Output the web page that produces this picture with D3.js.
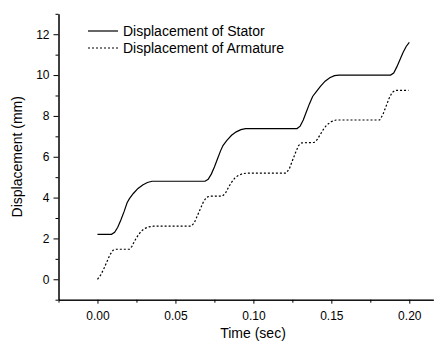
<!DOCTYPE html>
<html lang="en">
<head>
<meta charset="UTF-8">
<title>Displacement vs Time</title>
<script src="https://d3js.org/d3.v7.min.js"></script>
<style>
  body { margin: 0; background: #fff; }
  svg { display: block; font-family: Arial, "Liberation Sans", sans-serif; }
  .axis path, .axis line { stroke: #000; }
  .axis text { font-size: 12px; fill: #000; }
  .label { font-size: 14px; fill: #000; }
  .curve { fill: none; stroke: #000; stroke-width: 1.2px; }
</style>
</head>
<body>
<div id="chart"></div>
<script>
// values
const statorT = [0, 0.009, 0.011, 0.013, 0.015, 0.017, 0.019, 0.0205, 0.023, 0.026, 0.029, 0.032, 0.035,
  0.069, 0.071, 0.073, 0.075, 0.077, 0.079, 0.0805, 0.083, 0.086, 0.089, 0.092, 0.095,
  0.128, 0.130, 0.132, 0.134, 0.136, 0.138, 0.1405, 0.143, 0.146, 0.149, 0.152, 0.155,
  0.188, 0.190, 0.192, 0.194, 0.196, 0.198, 0.200];
const statorY = [2.2, 2.2, 2.3, 2.55, 2.9, 3.3, 3.75, 3.95, 4.2, 4.45, 4.62, 4.74, 4.8,
  4.8, 4.9, 5.15, 5.5, 5.9, 6.3, 6.55, 6.8, 7.05, 7.22, 7.33, 7.38,
  7.38, 7.5, 7.8, 8.2, 8.6, 8.95, 9.2, 9.45, 9.7, 9.87, 9.97, 10.0,
  10.0, 10.1, 10.4, 10.75, 11.1, 11.4, 11.6];

const armatureT = [0, 0.002, 0.004, 0.006, 0.008, 0.010, 0.012, 0.0205,
  0.022, 0.024, 0.026, 0.028, 0.030, 0.033, 0.036, 0.060,
  0.062, 0.064, 0.066, 0.068, 0.070, 0.072, 0.080,
  0.082, 0.084, 0.086, 0.088, 0.090, 0.093, 0.096, 0.121,
  0.123, 0.125, 0.127, 0.129, 0.131, 0.139,
  0.141, 0.143, 0.145, 0.147, 0.150, 0.153, 0.181,
  0.183, 0.185, 0.187, 0.189, 0.191, 0.1995];
const armatureY = [0, 0.2, 0.5, 0.85, 1.2, 1.42, 1.47, 1.47,
  1.6, 1.9, 2.15, 2.35, 2.48, 2.57, 2.6, 2.6,
  2.75, 3.1, 3.45, 3.8, 4.02, 4.07, 4.07,
  4.2, 4.5, 4.75, 4.95, 5.07, 5.17, 5.2, 5.2,
  5.4, 5.8, 6.2, 6.55, 6.68, 6.7,
  6.85, 7.1, 7.35, 7.55, 7.72, 7.8, 7.8,
  8.05, 8.45, 8.85, 9.15, 9.25, 9.25];

const xTicks = [0, 0.05, 0.10, 0.15, 0.20];
const xMinor = [-0.025, 0.025, 0.075, 0.125, 0.175];
const yTicks = [0, 2, 4, 6, 8, 10, 12];
const yMinor = [-1, 1, 3, 5, 7, 9, 11, 13];

const seriesNames = ["Displacement of Stator", "Displacement of Armature"];
const dashes = [null, "2,2"];

const W = 435, H = 343;
const svg = d3.select("#chart").append("svg")
  .attr("width", W).attr("height", H);

const x = d3.scaleLinear().domain([-0.025, 0.2154]).range([58.5, 433.3]);
const y = d3.scaleLinear().domain([-1, 13]).range([299.7, 13.8]);

// minor ticks
svg.append("g").attr("class", "axis")
  .attr("transform", `translate(0,${y(-1)})`)
  .call(d3.axisBottom(x).tickValues(xMinor).tickSize(3).tickSizeOuter(0).tickFormat(""));
svg.append("g").attr("class", "axis")
  .attr("transform", `translate(${x(-0.025)},0)`)
  .call(d3.axisLeft(y).tickValues(yMinor).tickSize(3).tickSizeOuter(0).tickFormat(""));

// major ticks
svg.append("g").attr("class", "axis")
  .attr("transform", `translate(0,${y(-1)})`)
  .call(d3.axisBottom(x).tickValues(xTicks).tickSize(4).tickSizeOuter(0).tickPadding(8)
    .tickFormat(d3.format(".2f")));
svg.append("g").attr("class", "axis")
  .attr("transform", `translate(${x(-0.025)},0)`)
  .call(d3.axisLeft(y).tickValues(yTicks).tickSize(5).tickSizeOuter(0).tickPadding(4)
    .tickFormat(d3.format("d")));

svg.append("text").attr("class", "label")
  .attr("x", 253).attr("y", 338)
  .attr("text-anchor", "middle")
  .text("Time (sec)");

svg.append("text").attr("class", "label")
  .attr("transform", `translate(22,${(y(-1) + y(13)) / 2}) rotate(-90)`)
  .attr("text-anchor", "middle")
  .text("Displacement (mm)");

const line = d3.line()
  .x(d => x(d[0]))
  .y(d => y(d[1]));

const series = [
  statorT.map((t, i) => [t, statorY[i]]),
  armatureT.map((t, i) => [t, armatureY[i]])
];

series.forEach((pts, i) => {
  svg.append("path")
    .datum(pts)
    .attr("class", "curve")
    .attr("stroke-dasharray", dashes[i])
    .attr("d", line);
});

// legend
const legend = svg.append("g").attr("transform", "translate(88,31)");
seriesNames.forEach((name, i) => {
  legend.append("line")
    .attr("x1", 0).attr("x2", 30)
    .attr("y1", i * 17).attr("y2", i * 17)
    .attr("stroke", "#000").attr("stroke-width", 1.2)
    .attr("stroke-dasharray", dashes[i]);
  legend.append("text").attr("class", "label")
    .attr("x", 35).attr("y", i * 17 + 5)
    .text(name);
});
</script>
</body>
</html>
